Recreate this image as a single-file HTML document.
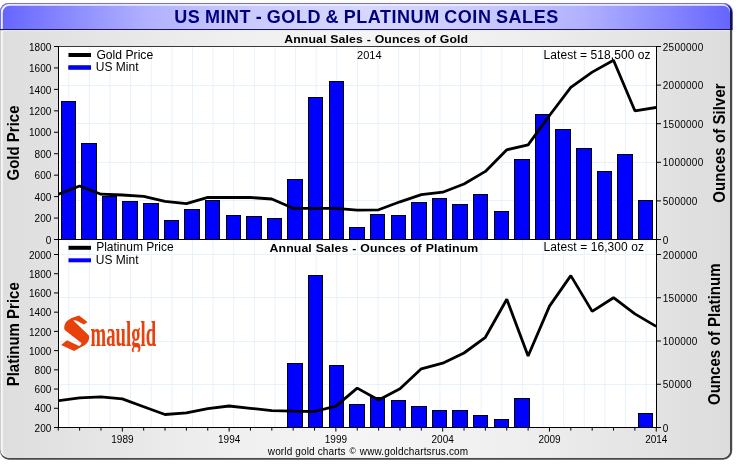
<!DOCTYPE html>
<html><head><meta charset="utf-8"><title>US MINT - GOLD &amp; PLATINUM COIN SALES</title>
<style>
html,body{margin:0;padding:0;background:#fff;}
body{width:738px;height:469px;overflow:hidden;font-family:"Liberation Sans",sans-serif;}
svg{display:block;will-change:transform;}
text{font-family:"Liberation Sans",sans-serif;}
.t{font-size:10px;fill:#000;}
.l{font-size:12px;fill:#000;}
.b{font-weight:bold;fill:#000;}
</style></head><body>
<svg width="738" height="469" viewBox="0 0 738 469">
<defs>
<linearGradient id="gh" gradientUnits="userSpaceOnUse" x1="0" y1="0" x2="732" y2="0">
<stop offset="0.0" stop-color="#6464ff"/><stop offset="0.1" stop-color="#8c8cff"/><stop offset="0.2" stop-color="#b0b0ff"/><stop offset="0.3" stop-color="#c4c4ff"/><stop offset="0.4" stop-color="#d0d0ff"/><stop offset="0.5" stop-color="#d6d6ff"/><stop offset="0.6" stop-color="#d0d0ff"/><stop offset="0.7" stop-color="#c4c4ff"/><stop offset="0.8" stop-color="#b0b0ff"/><stop offset="0.9" stop-color="#8c8cff"/><stop offset="1.0" stop-color="#6464ff"/>
</linearGradient>
<linearGradient id="gb" gradientUnits="userSpaceOnUse" x1="0" y1="0" x2="732" y2="0">
<stop offset="0" stop-color="#dedede"/><stop offset="0.15" stop-color="#e6e6e6"/><stop offset="0.3" stop-color="#efefef"/><stop offset="0.5" stop-color="#f5f5f5"/><stop offset="0.7" stop-color="#efefef"/><stop offset="0.85" stop-color="#e6e6e6"/><stop offset="1" stop-color="#dcdcdc"/>
</linearGradient>
<clipPath id="cf"><rect x="1" y="3.5" width="731" height="455.5" rx="8" ry="8"/></clipPath>
<clipPath id="cu"><rect x="59" y="47" width="597" height="192.5"/></clipPath>
<clipPath id="cl"><rect x="59" y="240" width="597" height="187.5"/></clipPath>
</defs>
<rect x="0" y="0" width="738" height="469" fill="#fff"/>

<path d="M9.00 3.10H723.20A9.00 9.00 0 0 1 732.20 12.10V450.70A9.00 9.00 0 0 1 723.20 459.70H9.00A9.00 9.00 0 0 1 0.00 450.70V12.10A9.00 9.00 0 0 1 9.00 3.10Z" fill="#484848"/>
<clipPath id="chd"><rect x="0" y="0" width="738" height="30"/></clipPath>
<path clip-path="url(#chd)" d="M9.00 3.10H723.80A9.00 9.00 0 0 1 732.80 12.10V450.70A9.00 9.00 0 0 1 723.80 459.70H9.00A9.00 9.00 0 0 1 0.00 450.70V12.10A9.00 9.00 0 0 1 9.00 3.10Z" fill="#5a5ae8"/>
<path clip-path="url(#chd)" d="M9.00 4.10H723.20A9.00 9.00 0 0 1 732.20 13.10V450.70A9.00 9.00 0 0 1 723.20 459.70H9.00A9.00 9.00 0 0 1 0.00 450.70V13.10A9.00 9.00 0 0 1 9.00 4.10Z" fill="#15153a"/>
<clipPath id="c1"><path d="M8.50 3.10H721.50A8.50 8.50 0 0 1 730.00 11.60V449.30A8.50 8.50 0 0 1 721.50 457.80H8.50A8.50 8.50 0 0 1 0.00 449.30V11.60A8.50 8.50 0 0 1 8.50 3.10Z"/></clipPath>
<g clip-path="url(#c1)">
<rect x="0" y="0" width="738" height="469" fill="#cdcdcd"/>
<rect x="0" y="0" width="738" height="30" fill="#6e6eff"/>
</g>
<clipPath id="c2"><path d="M9.00 4.20H722.00A8.00 8.00 0 0 1 730.00 12.20V449.80A8.00 8.00 0 0 1 722.00 457.80H9.00A8.00 8.00 0 0 1 1.00 449.80V12.20A8.00 8.00 0 0 1 9.00 4.20Z"/></clipPath>
<g clip-path="url(#c2)">
<rect x="0" y="0" width="738" height="469" fill="#f6f6f6"/>
<rect x="0" y="0" width="738" height="30" fill="#eeeeff"/>
</g>
<clipPath id="c3"><path d="M9.80 5.70H723.00A7.00 7.00 0 0 1 730.00 12.70V450.80A7.00 7.00 0 0 1 723.00 457.80H9.80A7.00 7.00 0 0 1 2.80 450.80V12.70A7.00 7.00 0 0 1 9.80 5.70Z"/></clipPath>
<g clip-path="url(#c3)">
<rect x="0" y="0" width="738" height="469" fill="url(#gb)"/>
<rect x="0" y="0" width="738" height="29.2" fill="url(#gh)"/>
</g>
<clipPath id="c4"><path d="M8.50 3.10H721.50A8.50 8.50 0 0 1 730.00 11.60V449.30A8.50 8.50 0 0 1 721.50 457.80H8.50A8.50 8.50 0 0 1 0.00 449.30V11.60A8.50 8.50 0 0 1 8.50 3.10Z"/></clipPath>
<g clip-path="url(#c4)">
<rect x="0" y="29" width="738" height="1.1" fill="#18184a"/>
<rect x="3" y="30.1" width="728" height="1" fill="#ececec"/>
</g>
<rect x="58" y="46" width="599" height="382" fill="#fff"/>
<path d="M68.76 47V427M89.38 47V427M110.00 47V427M130.62 47V427M151.24 47V427M171.86 47V427M192.48 47V427M213.11 47V427M233.73 47V427M254.35 47V427M274.97 47V427M295.59 47V427M316.21 47V427M336.83 47V427M357.45 47V427M378.07 47V427M398.69 47V427M419.31 47V427M439.93 47V427M460.55 47V427M481.17 47V427M501.79 47V427M522.42 47V427M543.04 47V427M563.66 47V427M584.28 47V427M604.90 47V427M625.52 47V427M646.14 47V427" stroke="#e8f2fa" stroke-width="1" fill="none"/>
<path d="M59 200.5H656M59 162.5H656M59 123.5H656M59 85.5H656M59 384.5H656M59 341.5H656M59 297.5H656M59 254.5H656" stroke="#e8f2fa" stroke-width="1" fill="none"/>
<g fill="#0000ff" stroke="#000" stroke-width="1"><rect x="61.5" y="101.5" width="14" height="138.0"/><rect x="81.5" y="143.5" width="15" height="96.0"/><rect x="102.5" y="196.5" width="14" height="43.0"/><rect x="122.5" y="201.5" width="15" height="38.0"/><rect x="143.5" y="203.5" width="15" height="36.0"/><rect x="164.5" y="220.5" width="14" height="19.0"/><rect x="184.5" y="209.5" width="15" height="30.0"/><rect x="205.5" y="200.5" width="14" height="39.0"/><rect x="226.5" y="215.5" width="14" height="24.0"/><rect x="246.5" y="216.5" width="15" height="23.0"/><rect x="267.5" y="218.5" width="14" height="21.0"/><rect x="287.5" y="179.5" width="15" height="60.0"/><rect x="308.5" y="97.5" width="14" height="142.0"/><rect x="329.5" y="81.5" width="14" height="158.0"/><rect x="349.5" y="227.5" width="15" height="12.0"/><rect x="370.5" y="214.5" width="14" height="25.0"/><rect x="391.5" y="215.5" width="14" height="24.0"/><rect x="411.5" y="202.5" width="15" height="37.0"/><rect x="432.5" y="198.5" width="14" height="41.0"/><rect x="452.5" y="204.5" width="15" height="35.0"/><rect x="473.5" y="194.5" width="14" height="45.0"/><rect x="494.5" y="211.5" width="14" height="28.0"/><rect x="514.5" y="159.5" width="15" height="80.0"/><rect x="535.5" y="114.5" width="14" height="125.0"/><rect x="555.5" y="129.5" width="15" height="110.0"/><rect x="576.5" y="148.5" width="15" height="91.0"/><rect x="597.5" y="171.5" width="14" height="68.0"/><rect x="617.5" y="154.5" width="15" height="85.0"/><rect x="638.5" y="200.5" width="14" height="39.0"/></g>
<g fill="#0000ff" stroke="#000" stroke-width="1"><rect x="287.5" y="363.5" width="15" height="64.0"/><rect x="308.5" y="275.5" width="14" height="152.0"/><rect x="329.5" y="365.5" width="14" height="62.0"/><rect x="349.5" y="404.5" width="15" height="23.0"/><rect x="370.5" y="397.5" width="14" height="30.0"/><rect x="391.5" y="400.5" width="14" height="27.0"/><rect x="411.5" y="406.5" width="15" height="21.0"/><rect x="432.5" y="410.5" width="14" height="17.0"/><rect x="452.5" y="410.5" width="15" height="17.0"/><rect x="473.5" y="415.5" width="14" height="12.0"/><rect x="494.5" y="419.5" width="14" height="8.0"/><rect x="514.5" y="398.5" width="15" height="29.0"/><rect x="638.5" y="413.5" width="14" height="14.0"/></g>
<polyline clip-path="url(#cu)" points="58.2,194.2 79.6,186.0 101.0,194.2 122.3,195.0 143.7,196.4 165.0,201.4 186.4,203.7 207.8,197.3 229.1,197.5 250.5,197.5 271.8,199.0 293.2,208.3 314.5,208.3 335.9,208.3 357.2,210.1 378.6,209.8 400.0,201.8 421.3,194.6 442.7,192.2 464.0,184.0 485.4,171.4 506.8,149.8 528.1,144.8 549.5,115.5 570.8,87.4 592.2,72.1 613.5,60.2 634.9,110.8 656.2,107.5" fill="none" stroke="#000" stroke-width="2.8" stroke-linejoin="bevel"/>
<polyline clip-path="url(#cl)" points="58.2,400.8 79.6,397.9 101.0,396.9 122.3,398.9 143.7,406.7 165.0,414.5 186.4,412.8 207.8,408.6 229.1,406.0 250.5,408.3 271.8,410.6 293.2,411.2 314.5,411.5 335.9,406.1 357.2,388.1 378.6,400.0 400.0,388.8 421.3,368.8 442.7,363.2 464.0,353.0 485.4,337.3 506.8,299.2 528.1,356.0 549.5,306.1 570.8,275.6 592.2,311.4 613.5,297.7 634.9,313.9 656.2,326.4" fill="none" stroke="#000" stroke-width="2.8" stroke-linejoin="bevel"/>
<path d="M58 46.5H657" stroke="#3a3a3a" stroke-width="1" fill="none"/>
<path d="M58.5 46V428M656.5 46V428M58 239.5H657M58 427.5H657" stroke="#000" stroke-width="1" fill="none"/>
<path d="M54 239.50H58M54 218.06H58M54 196.61H58M54 175.17H58M54 153.72H58M54 132.28H58M54 110.83H58M54 89.39H58M54 67.94H58M54 46.50H58M54 427.50H58M54 408.28H58M54 389.06H58M54 369.83H58M54 350.61H58M54 331.39H58M54 312.17H58M54 292.94H58M54 273.72H58M54 254.50H58M657 239.50H661M657 200.90H661M657 162.30H661M657 123.70H661M657 85.10H661M657 46.50H661M657 427.50H661M657 384.25H661M657 341.00H661M657 297.75H661M657 254.50H661M58.25 428V430.6M79.61 428V430.6M100.96 428V430.6M122.32 428V431.6M143.68 428V430.6M165.04 428V430.6M186.39 428V430.6M207.75 428V430.6M229.11 428V431.6M250.46 428V430.6M271.82 428V430.6M293.18 428V430.6M314.54 428V430.6M335.89 428V431.6M357.25 428V430.6M378.61 428V430.6M399.96 428V430.6M421.32 428V430.6M442.68 428V431.6M464.04 428V430.6M485.39 428V430.6M506.75 428V430.6M528.11 428V430.6M549.46 428V431.6M570.82 428V430.6M592.18 428V430.6M613.54 428V430.6M634.89 428V430.6M656.25 428V431.6" stroke="#000" stroke-width="1" fill="none"/>
<text class="t" x="51.3" y="243.6" text-anchor="end">0</text>
<text class="t" x="51.3" y="222.2" text-anchor="end">200</text>
<text class="t" x="51.3" y="200.7" text-anchor="end">400</text>
<text class="t" x="51.3" y="179.3" text-anchor="end">600</text>
<text class="t" x="51.3" y="157.8" text-anchor="end">800</text>
<text class="t" x="51.3" y="136.4" text-anchor="end">1000</text>
<text class="t" x="51.3" y="114.9" text-anchor="end">1200</text>
<text class="t" x="51.3" y="93.5" text-anchor="end">1400</text>
<text class="t" x="51.3" y="72.0" text-anchor="end">1600</text>
<text class="t" x="51.3" y="50.6" text-anchor="end">1800</text>
<text class="t" x="51.3" y="431.6" text-anchor="end">200</text>
<text class="t" x="51.3" y="412.4" text-anchor="end">400</text>
<text class="t" x="51.3" y="393.2" text-anchor="end">600</text>
<text class="t" x="51.3" y="373.9" text-anchor="end">800</text>
<text class="t" x="51.3" y="354.7" text-anchor="end">1000</text>
<text class="t" x="51.3" y="335.5" text-anchor="end">1200</text>
<text class="t" x="51.3" y="316.3" text-anchor="end">1400</text>
<text class="t" x="51.3" y="297.0" text-anchor="end">1600</text>
<text class="t" x="51.3" y="277.8" text-anchor="end">1800</text>
<text class="t" x="51.3" y="258.6" text-anchor="end">2000</text>
<text class="t" x="662.8" y="243.6" letter-spacing="0.25">0</text>
<text class="t" x="662.8" y="205.0" letter-spacing="0.25">500000</text>
<text class="t" x="662.8" y="166.4" letter-spacing="0.25">1000000</text>
<text class="t" x="662.8" y="127.8" letter-spacing="0.25">1500000</text>
<text class="t" x="662.8" y="89.2" letter-spacing="0.25">2000000</text>
<text class="t" x="662.8" y="50.6" letter-spacing="0.25">2500000</text>
<text class="t" x="662.8" y="431.6" letter-spacing="0.25">0</text>
<text class="t" x="662.8" y="388.4" letter-spacing="0.25">50000</text>
<text class="t" x="662.8" y="345.1" letter-spacing="0.25">100000</text>
<text class="t" x="662.8" y="301.9" letter-spacing="0.25">150000</text>
<text class="t" x="662.8" y="258.6" letter-spacing="0.25">200000</text>
<text class="t" x="122.4" y="442.6" text-anchor="middle">1989</text>
<text class="t" x="229.2" y="442.6" text-anchor="middle">1994</text>
<text class="t" x="335.9" y="442.6" text-anchor="middle">1999</text>
<text class="t" x="442.7" y="442.6" text-anchor="middle">2004</text>
<text class="t" x="549.5" y="442.6" text-anchor="middle">2009</text>
<text class="t" x="656.3" y="442.6" text-anchor="middle">2014</text>
<path d="M68.5 55H91M68.5 67.5H91" stroke-width="4" fill="none" stroke="#000"/>
<path d="M68.5 67.5H91" stroke-width="4" fill="none" stroke="#0000ff"/>
<text class="l" x="96.4" y="58.7" textLength="56.8" lengthAdjust="spacingAndGlyphs">Gold Price</text>
<text class="l" x="95.8" y="71">US Mint</text>
<path d="M68.5 247.8H91" stroke-width="4" fill="none" stroke="#000"/>
<path d="M68.5 260.3H91" stroke-width="4" fill="none" stroke="#0000ff"/>
<text class="l" x="96.2" y="251.4">Platinum Price</text>
<text class="l" x="95.8" y="263.9">US Mint</text>
<text x="174.3" y="23.3" font-size="18" font-weight="bold" fill="#00007a" letter-spacing="0.55" word-spacing="-1">US MINT - GOLD &amp; PLATINUM COIN SALES</text>
<text class="b" font-size="12.3" letter-spacing="0.1" word-spacing="0.3" transform="translate(284.2 43.2) scale(1 0.9)">Annual Sales - Ounces of Gold</text>
<text class="b" font-size="12.3" letter-spacing="0.1" word-spacing="0.4" transform="translate(269.6 252.3) scale(1 0.9)">Annual Sales - Ounces of Platinum</text>
<text class="l" x="369.3" y="59" font-size="11" style="font-size:11px" text-anchor="middle">2014</text>
<text class="l" x="543.6" y="58.7" letter-spacing="0.07">Latest = 518,500 oz</text>
<text class="l" x="543.6" y="251.3" letter-spacing="0.08">Latest = 16,300 oz</text>
<text class="t" x="267.8" y="454.5" letter-spacing="0.135">world gold charts <tspan font-size="8.6" dx="0.8" dy="-0.4">©</tspan><tspan dx="1" dy="0.4"> www.goldchartsrus.com</tspan></text>
<text class="b" font-size="15" text-anchor="middle" transform="translate(19.3 143) rotate(-90) scale(1 1.05)">Gold Price</text>
<text class="b" font-size="15" text-anchor="middle" transform="translate(19.3 334.3) rotate(-90) scale(1 1.05)">Platinum Price</text>
<text class="b" font-size="15" text-anchor="middle" letter-spacing="0.07" transform="translate(725.2 143) rotate(-90) scale(1 1.05)">Ounces of Silver</text>
<text class="b" font-size="15" text-anchor="middle" letter-spacing="0.06" transform="translate(720.3 334.2) rotate(-90) scale(1 1.05)">Ounces of Platinum</text>
<clipPath id="clg"><rect x="58" y="310" width="110" height="41.7"/></clipPath>
<g fill="#e8410c" clip-path="url(#clg)">
<path transform="translate(58 312) scale(0.0895)" d="M235 38L330 112L290 140L215 100Q190 88 172 96L345 262C358 320 320 365 270 385L180 435L35 370L100 315L235 380Q258 372 262 345L75 200Q55 150 100 100Q160 55 235 38Z"/>
<text x="0" y="0" transform="translate(90.6 346.3) scale(0.52 1)" font-family="Liberation Serif" font-weight="bold" font-size="36" style="font-family:'Liberation Serif',serif">maulgld</text>
</g>
</svg></body></html>
